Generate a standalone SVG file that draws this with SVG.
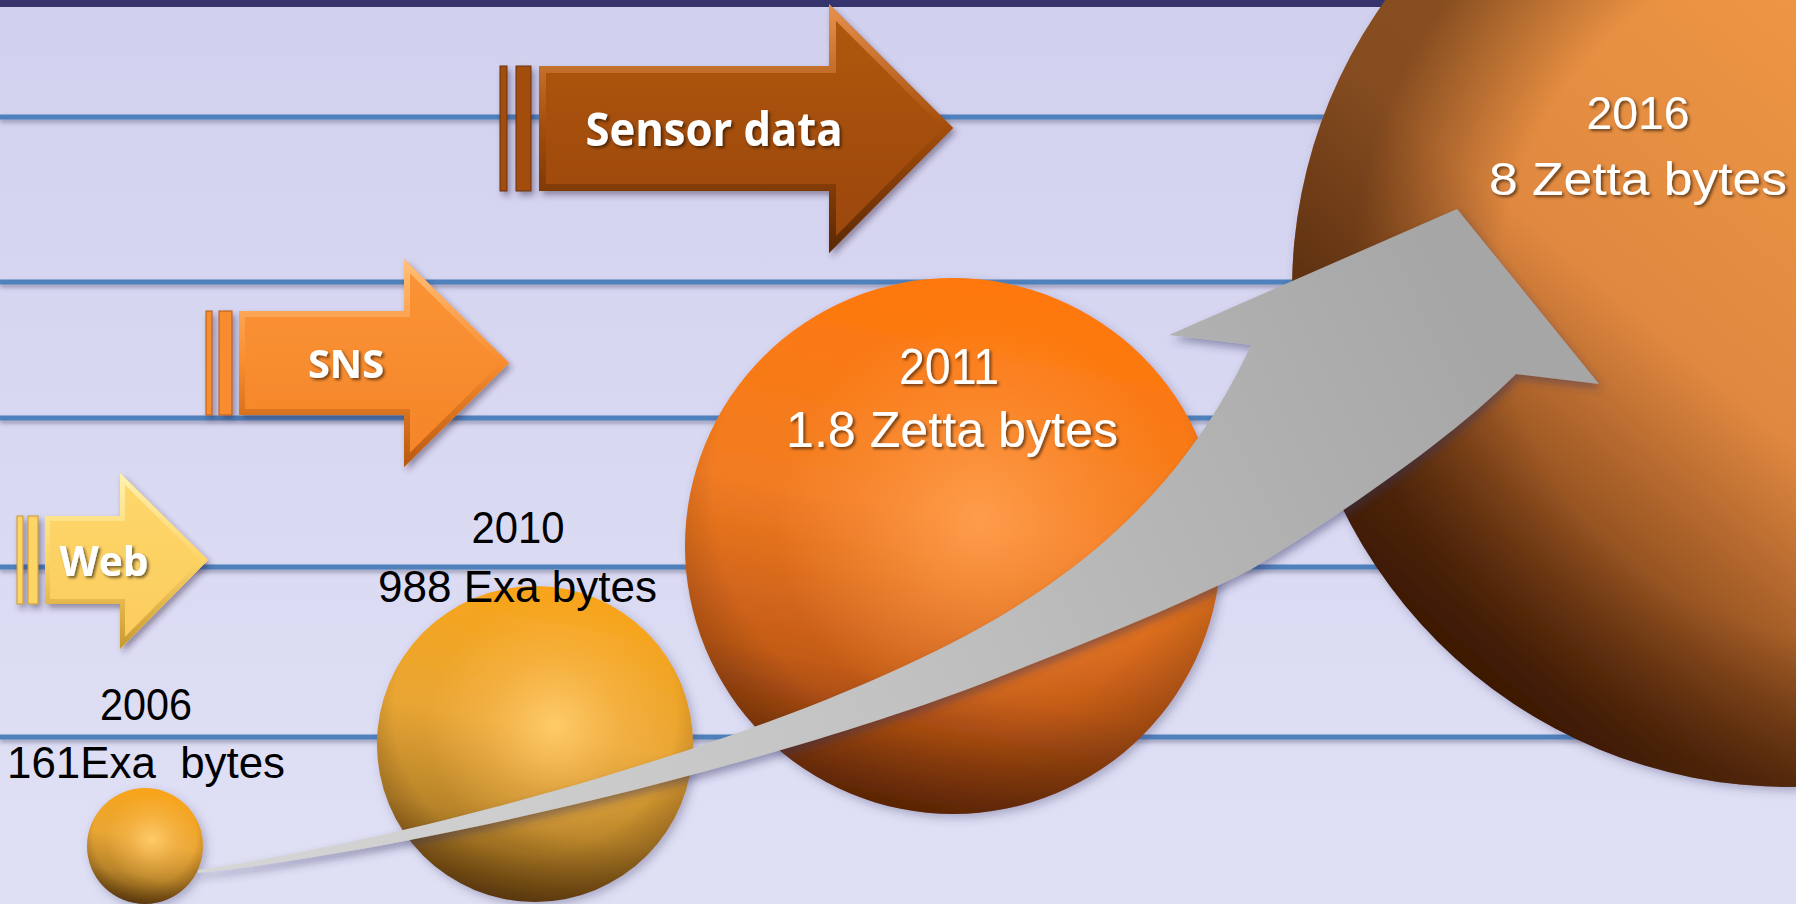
<svg xmlns="http://www.w3.org/2000/svg" xmlns:xlink="http://www.w3.org/1999/xlink" width="1796" height="904" viewBox="0 0 1796 904">
<style>
.grid{stroke:#4f81bd;stroke-width:5;fill:none}
.lbl{font-family:"Liberation Sans","Noto Sans",sans-serif;font-weight:400}
.blk{fill:#000}
.wht{fill:#fff;filter:url(#tshadow)}
.arrtxt{font-family:"Open Sans","Liberation Sans",sans-serif;font-weight:700;fill:#fff;filter:url(#tshadow)}
</style>
<defs>
<linearGradient id="bg" x1="0" y1="0" x2="0" y2="1">
<stop offset="0" stop-color="#d1d1ef"/><stop offset="1" stop-color="#e0e0f5"/>
</linearGradient>
<filter id="tshadow" x="-10%" y="-30%" width="120%" height="160%">
<feDropShadow dx="2" dy="2" stdDeviation="1.5" flood-color="#000" flood-opacity="0.55"/>
</filter>
<filter id="lshadow" x="-5%" y="-100%" width="110%" height="400%">
<feDropShadow dx="0" dy="3" stdDeviation="2" flood-color="#505070" flood-opacity="0.45"/>
</filter>
<filter id="ashadow" x="-10%" y="-10%" width="125%" height="130%">
<feDropShadow dx="3" dy="4" stdDeviation="3" flood-color="#302840" flood-opacity="0.45"/>
</filter>
<filter id="sshadow" x="-10%" y="-10%" width="125%" height="125%">
<feDropShadow dx="3" dy="4" stdDeviation="5" flood-color="#404070" flood-opacity="0.35"/>
</filter>
<filter id="gshadow" x="-5%" y="-10%" width="115%" height="130%">
<feDropShadow dx="3" dy="5" stdDeviation="4" flood-color="#303060" flood-opacity="0.45"/>
</filter>

<!-- sphere gradients -->
<linearGradient id="goldBase" x1="0.6" y1="0" x2="0.4" y2="1">
<stop offset="0" stop-color="#f9a418"/><stop offset="0.45" stop-color="#e9a634"/><stop offset="0.75" stop-color="#b8842a"/><stop offset="1" stop-color="#6a4610"/>
</linearGradient>
<radialGradient id="goldHi" cx="0.56" cy="0.44" r="0.4">
<stop offset="0" stop-color="#ffcd6c" stop-opacity="0.95"/><stop offset="0.55" stop-color="#ffc260" stop-opacity="0.35"/><stop offset="1" stop-color="#ffc060" stop-opacity="0"/>
</radialGradient>
<linearGradient id="orBase" x1="0.6" y1="0" x2="0.4" y2="1">
<stop offset="0" stop-color="#ff780a"/><stop offset="0.45" stop-color="#f27c22"/><stop offset="0.75" stop-color="#c45c18"/><stop offset="1" stop-color="#6a2a04"/>
</linearGradient>
<radialGradient id="orHi" cx="0.55" cy="0.45" r="0.38">
<stop offset="0" stop-color="#ffa050" stop-opacity="0.9"/><stop offset="0.6" stop-color="#ff9a48" stop-opacity="0.35"/><stop offset="1" stop-color="#ff9a48" stop-opacity="0"/>
</radialGradient>
<linearGradient id="brBase" x1="0.75" y1="0.25" x2="0.2" y2="0.9">
<stop offset="0" stop-color="#f29a45"/><stop offset="0.55" stop-color="#e08840"/><stop offset="1" stop-color="#4e2004"/>
</linearGradient>
<radialGradient id="rim" cx="0.5" cy="0.4" r="0.62">
<stop offset="0.72" stop-color="#2a1000" stop-opacity="0"/><stop offset="1" stop-color="#2a1000" stop-opacity="0.35"/>
</radialGradient>
<radialGradient id="rimBig" cx="0.56" cy="0.5" r="0.5">
<stop offset="0.7" stop-color="#2a1000" stop-opacity="0"/><stop offset="1" stop-color="#2a1000" stop-opacity="0.5"/>
</radialGradient>

<!-- arrow gradients -->
<linearGradient id="gSensor" x1="0" y1="0" x2="0" y2="1">
<stop offset="0" stop-color="#b0580f"/><stop offset="1" stop-color="#9a4608"/>
</linearGradient>
<linearGradient id="bSensor" x1="0" y1="0" x2="0" y2="1">
<stop offset="0" stop-color="#e8924e"/><stop offset="0.5" stop-color="#a34d0b"/><stop offset="1" stop-color="#5a2804"/>
</linearGradient>
<linearGradient id="gSns" x1="0" y1="0" x2="0" y2="1">
<stop offset="0" stop-color="#fb9436"/><stop offset="1" stop-color="#f48428"/>
</linearGradient>
<linearGradient id="bSns" x1="0" y1="0" x2="0" y2="1">
<stop offset="0" stop-color="#ffc07a"/><stop offset="0.5" stop-color="#f88c2e"/><stop offset="1" stop-color="#b85810"/>
</linearGradient>
<linearGradient id="gWeb" x1="0" y1="0" x2="0" y2="1">
<stop offset="0" stop-color="#fed76c"/><stop offset="1" stop-color="#fbcc5c"/>
</linearGradient>
<linearGradient id="bWeb" x1="0" y1="0" x2="0" y2="1">
<stop offset="0" stop-color="#fff2b0"/><stop offset="0.5" stop-color="#fdd466"/><stop offset="1" stop-color="#c89830"/>
</linearGradient>
<linearGradient id="gGrey" gradientUnits="userSpaceOnUse" x1="200" y1="870" x2="1450" y2="260">
<stop offset="0" stop-color="#d6d6d6"/><stop offset="0.5" stop-color="#c2c2c2"/><stop offset="1" stop-color="#a6a6a6"/>
</linearGradient>

<path id="pSensor" d="M539,66 H829 V4 L953,128 L829,253 V191 H539 Z"/>
<path id="pSns" d="M239,311 H404 V259 L509,363 L404,467 V415 H239 Z"/>
<path id="pWeb" d="M45,516 H120 V473 L208,560 L120,649 V604 H45 Z"/>
<clipPath id="cSensor"><use xlink:href="#pSensor"/></clipPath>
<clipPath id="cSns"><use xlink:href="#pSns"/></clipPath>
<clipPath id="cWeb"><use xlink:href="#pWeb"/></clipPath>
</defs>

<g id="background">
<rect x="0" y="0" width="1796" height="904" fill="url(#bg)"/>
<rect x="0" y="0" width="1796" height="7" fill="#37336d"/>
</g>

<g id="grid-lines" filter="url(#lshadow)">
<line class="grid" x1="0" y1="117" x2="1796" y2="117"/>
<line class="grid" x1="0" y1="282" x2="1796" y2="282"/>
<line class="grid" x1="0" y1="418" x2="1796" y2="418"/>
<line class="grid" x1="0" y1="567" x2="1796" y2="567"/>
<line class="grid" x1="0" y1="737" x2="1796" y2="737"/>
</g>

<g id="arrow-sensor">
<g filter="url(#ashadow)">
<rect x="500" y="66" width="7" height="125" fill="#a34d0b" stroke="#6a3004" stroke-width="1"/>
<rect x="516" y="66" width="15" height="125" fill="#a34d0b" stroke="#6a3004" stroke-width="1"/>
<use xlink:href="#pSensor" fill="url(#gSensor)"/>
</g>
<use xlink:href="#pSensor" fill="none" stroke="url(#bSensor)" stroke-width="14" clip-path="url(#cSensor)"/>
<text class="arrtxt" x="714" y="146" font-size="46" text-anchor="middle" textLength="257" lengthAdjust="spacingAndGlyphs">Sensor data</text>
</g>

<g id="arrow-sns">
<g filter="url(#ashadow)">
<rect x="206" y="311" width="6" height="104" fill="#f88c2e" stroke="#b85810" stroke-width="1"/>
<rect x="219" y="311" width="13" height="104" fill="#f88c2e" stroke="#b85810" stroke-width="1"/>
<use xlink:href="#pSns" fill="url(#gSns)"/>
</g>
<use xlink:href="#pSns" fill="none" stroke="url(#bSns)" stroke-width="12" clip-path="url(#cSns)"/>
<text class="arrtxt" x="346" y="378" font-size="39" text-anchor="middle" textLength="76" lengthAdjust="spacingAndGlyphs">SNS</text>
</g>

<g id="arrow-web">
<g filter="url(#ashadow)">
<rect x="17" y="516" width="6" height="88" fill="#fdd466" stroke="#c89830" stroke-width="1"/>
<rect x="28" y="516" width="10" height="88" fill="#fdd466" stroke="#c89830" stroke-width="1"/>
<use xlink:href="#pWeb" fill="url(#gWeb)"/>
</g>
<use xlink:href="#pWeb" fill="none" stroke="url(#bWeb)" stroke-width="10" clip-path="url(#cWeb)"/>
<text class="arrtxt" x="104" y="576" font-size="41" text-anchor="middle" textLength="89" lengthAdjust="spacingAndGlyphs">Web</text>
</g>

<g id="sphere-2016">
<g filter="url(#sshadow)">
<circle cx="1789" cy="290" r="497" fill="url(#brBase)"/>
</g>
<circle cx="1789" cy="290" r="497" fill="url(#rimBig)"/>
<text class="lbl wht" x="1638" y="129" font-size="47" text-anchor="middle" textLength="103" lengthAdjust="spacingAndGlyphs">2016</text>
<text class="lbl wht" x="1489" y="195" font-size="47" textLength="298" lengthAdjust="spacingAndGlyphs">8 Zetta bytes</text>
</g>

<g id="sphere-2011">
<g filter="url(#sshadow)">
<circle cx="953" cy="546" r="268" fill="url(#orBase)"/>
</g>
<circle cx="953" cy="546" r="268" fill="url(#orHi)"/>
<circle cx="953" cy="546" r="268" fill="url(#rim)"/>
<text class="lbl wht" x="949" y="384" font-size="50" text-anchor="middle" textLength="100" lengthAdjust="spacingAndGlyphs">2011</text>
<text class="lbl wht" x="786" y="447" font-size="50" textLength="332" lengthAdjust="spacingAndGlyphs">1.8 Zetta bytes</text>
</g>

<g id="sphere-2010">
<g filter="url(#sshadow)">
<circle cx="535" cy="744" r="158" fill="url(#goldBase)"/>
</g>
<circle cx="535" cy="744" r="158" fill="url(#goldHi)"/>
<circle cx="535" cy="744" r="158" fill="url(#rim)"/>
<text class="lbl blk" x="518" y="543" font-size="44" text-anchor="middle" textLength="93" lengthAdjust="spacingAndGlyphs">2010</text>
<text class="lbl blk" x="378" y="602" font-size="44" textLength="279" lengthAdjust="spacingAndGlyphs">988 Exa bytes</text>
</g>

<g id="sphere-2006">
<g filter="url(#sshadow)">
<circle cx="145" cy="846" r="58" fill="url(#goldBase)"/>
</g>
<circle cx="145" cy="846" r="58" fill="url(#goldHi)"/>
<circle cx="145" cy="846" r="58" fill="url(#rim)"/>
<text class="lbl blk" x="146" y="720" font-size="44" text-anchor="middle" textLength="92" lengthAdjust="spacingAndGlyphs">2006</text>
<text class="lbl blk" x="7" y="778" font-size="44" xml:space="preserve" textLength="278" lengthAdjust="spacingAndGlyphs">161Exa  bytes</text>
</g>

<g id="connectors">
<path id="growth-arrow" filter="url(#gshadow)" fill="url(#gGrey)" d="M198,870 C400,840 700,760 900,668 C1060,596 1180,500 1251,345 L1169,335 L1457,209 L1599,384 L1516,374 C1450,440 1340,515 1250,570 C1170,610 1080,645 994,679 C800,755 450,845 198,873 Z"/>
</g>
</svg>
